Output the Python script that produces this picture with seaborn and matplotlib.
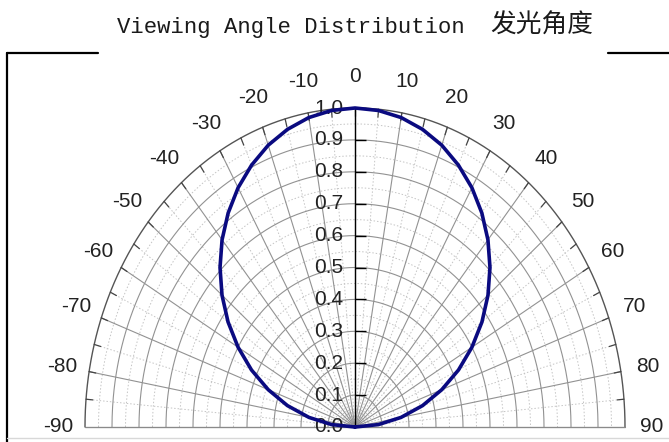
import numpy as np
import pandas as pd
import matplotlib
matplotlib.use("Agg")
import matplotlib.pyplot as plt
from matplotlib.lines import Line2D
from matplotlib.path import Path
import seaborn as sns

sns.set_theme(style="white")
plt.rcParams["font.family"] = ["Liberation Sans", "DejaVu Sans"]

# Making The Data
angles = [-90, -85, -80, -75, -70, -65, -60, -55, -50, -45, -40, -35, -30, -25,
          -20, -15, -10, -5, 0, 5, 10, 15, 20, 25, 30, 35, 40, 45, 50, 55, 60,
          65, 70, 75, 80, 85, 90]
intensity = [0.0, 0.087, 0.173, 0.259, 0.342, 0.423, 0.5, 0.574, 0.643, 0.707, 0.766,
             0.819, 0.866, 0.906, 0.94, 0.966, 0.985, 0.996, 1.0, 0.996, 0.985,
             0.966, 0.94, 0.906, 0.866, 0.819, 0.766, 0.707, 0.643, 0.574, 0.5,
             0.423, 0.342, 0.259, 0.173, 0.087, 0.0]
angle_labels = list(range(-90, 91, 10))
r_labels = [0.0, 0.1, 0.2, 0.3, 0.4, 0.5, 0.6, 0.7, 0.8, 0.9, 1.0]

# Polar -> plane (the chart is a vertically stretched half polar plot)
df = pd.DataFrame({"angle": angles, "intensity": intensity})
th = np.deg2rad(df["angle"])
df["x"] = df["intensity"] * np.sin(th)
df["y"] = df["intensity"] * np.cos(th)

# Figure
W, H = 669, 442
fig = plt.figure(figsize=(W / 100, H / 100), dpi=100)
fig.patch.set_facecolor("white")

cx, cy, rx, ry = 355, 427, 270, 319
ax = fig.add_axes([(cx - rx) / W, (H - cy) / H, 2 * rx / W, ry / H])
ax.set_xlim(-1, 1)
ax.set_ylim(0, 1)
ax.axis("off")

t = np.deg2rad(np.linspace(-90, 90, 361))

# Minor grid (dotted)
for r in np.arange(0.05, 1.0, 0.1):
    ax.plot(r * np.sin(t), r * np.cos(t), color="#c4c4c4", lw=0.7,
            ls=(0, (1.5, 2)), clip_on=False)
for a in range(-85, 90, 10):
    ar = np.deg2rad(a)
    ax.plot([0, np.sin(ar)], [0, np.cos(ar)], color="#c4c4c4", lw=0.7,
            ls=(0, (1.5, 2)), clip_on=False)

# Major grid (solid)
for r in r_labels[1:-1]:
    ax.plot(r * np.sin(t), r * np.cos(t), color="#929292", lw=0.8, clip_on=False)
for a in angle_labels:
    ar = np.deg2rad(a)
    ax.plot([0, np.sin(ar)], [0, np.cos(ar)], color="#929292", lw=0.8, clip_on=False)

# Outer arc, base line and edge ticks
ax.plot(np.sin(t), np.cos(t), color="#555555", lw=1.0, clip_on=False)
ax.plot([-1, 1], [0, 0], color="#8a8a8a", lw=0.9, clip_on=False)
for a in range(-85, 90, 5):
    ar = np.deg2rad(a)
    ax.plot([0.975 * np.sin(ar), np.sin(ar)], [0.975 * np.cos(ar), np.cos(ar)],
            color="#444444", lw=0.9, clip_on=False)

# Zero axis with ticks
ax.plot([0, 0], [0, 1.0], color="black", lw=1.0, zorder=3, clip_on=False)
tick_marker = Path([(0, 0), (1, 0)], [Path.MOVETO, Path.LINETO])
ax.plot([0] * 10, r_labels[1:], linestyle="none", marker=tick_marker,
        markersize=16, markeredgecolor="black", markeredgewidth=1.0, zorder=3,
        clip_on=False)

# Curve
sns.lineplot(data=df, x="x", y="y", ax=ax, color="#0a0a80", linewidth=2.6,
             sort=False, estimator=None, zorder=4, clip_on=False)
ax.set_xlabel("")
ax.set_ylabel("")

# Labels
for a in angle_labels:
    ar = np.deg2rad(a)
    ax.text(1.1 * np.sin(ar), 1.1 * np.cos(ar), str(a), ha="center", va="center",
            fontsize=15, color="#222222")
for r in r_labels:
    ax.annotate(f"{r:.1f}", xy=(0, r), xytext=(-8.5, 0), textcoords="offset points",
                ha="right", va="center", fontsize=15, color="#222222")

# Frame and title
def fig_line(x0, y0, x1, y1, **kw):
    fig.add_artist(Line2D([x0 / W, x1 / W], [1 - y0 / H, 1 - y1 / H], **kw))

fig_line(7, 53, 98, 53, color="black", lw=1.6)
fig_line(608, 53, 669, 53, color="black", lw=1.6)
fig_line(7, 53, 7, 442, color="black", lw=1.6)
fig_line(7, 438, 669, 438, color="#d8d8d8", lw=1.0)

fig.text(117 / W, 1 - 27 / H, "Viewing Angle Distribution", ha="left", va="center",
         fontsize=16, family="Liberation Mono", color="#1a1a1a")
fig.text(490 / W, 1 - 26 / H, "发光角度", ha="left", va="center",
         fontsize=18.5, family=["Noto Sans CJK SC", "DejaVu Sans"], color="#1a1a1a")

fig.savefig("out.png", dpi=100)
